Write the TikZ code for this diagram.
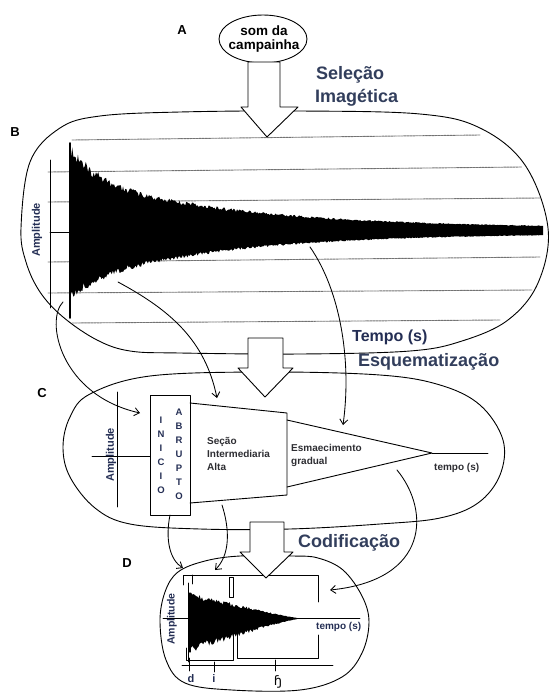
\documentclass[tikz,border=0pt]{standalone}
\usepackage{fontspec}
\setmainfont{Liberation Sans}
\newfontfamily\dejavu{DejaVu Sans}
\usetikzlibrary{arrows.meta}
\definecolor{slate}{RGB}{50,62,92}
\definecolor{navy}{RGB}{36,46,84}
\definecolor{dgray}{RGB}{45,45,50}
\begin{document}
\begin{tikzpicture}[x=1pt,y=-1pt,line cap=round,line join=round,
  outline/.style={line width=0.9pt},
  thin line/.style={line width=0.8pt},
  conn/.style={line width=0.85pt,-{Straight Barb[length=5pt,width=8pt,line width=0.85pt]}},
  blockarrow/.style={fill=white,draw,line width=0.9pt},
  gridline/.style={line width=0.9pt,black!55,dash pattern=on 2.2pt off 0.9pt},
  letter/.style={font=\bfseries\fontsize{13}{13}\selectfont},
  title/.style={font=\bfseries\fontsize{18}{18}\selectfont,text=slate,anchor=west,inner sep=0pt},
  small/.style={font=\bfseries\fontsize{10}{13}\selectfont,text=dgray,align=left,inner sep=0pt},
  amp/.style={font=\bfseries\fontsize{11}{11}\selectfont,text=navy,rotate=90,inner sep=0pt},
  vletter/.style={font=\bfseries\fontsize{9.5}{9.5}\selectfont,text=navy,inner sep=0pt}]
\useasboundingbox (0,0) rectangle (550,694);
\pgfmathsetseed{4242}

% ---------- outlines B, C, D ----------
\draw[outline] plot[smooth cycle,tension=0.6] coordinates {
  (21,228) (30,162) (60,128) (100,116) (180,112) (300,111) (420,114) (480,128)
  (525,165) (548,228) (538,283) (508,320) (462,341) (410,351) (300,354)
  (180,353) (130,351) (97,340) (63,317) (40,292) (26,262)};
\draw[outline] plot[smooth cycle,tension=0.6] coordinates {
  (150,376) (265,372) (380,375) (440,385) (480,405) (503,440) (500,475)
  (478,503) (440,518) (380,524) (290,529) (200,529) (130,524) (95,508)
  (70,477) (63,447) (70,417) (90,394)};
\draw[outline] plot[smooth cycle,tension=0.6] coordinates {
  (240,556) (293,556) (318,558) (343,570) (362,596) (369,622) (362,653)
  (342,677) (300,690) (232,690) (185,683) (166,660) (160,622) (165,592)
  (178,572) (205,561)};

% ---------- A ----------
\node[letter] (labA) at (182,30) {A};
\draw[outline,fill=white] (263,39) ellipse [x radius=44, y radius=24];
\node[font=\bfseries\fontsize{13.5}{14}\selectfont,align=center,inner sep=0pt] (bubble) at (264,39) {som da\\campainha};
\node[title] (sel1) at (316,75) {Seleção};
\node[title] (sel2) at (315,98) {Imagética};

% ---------- B ----------
\node[letter] (labB) at (15,132) {B};
\draw[gridline] (72,140) -- (480,135);
\draw[gridline] (48,172) -- (522,167);
\draw[gridline] (48,202) -- (540,198);
\draw[gridline] (48,262) -- (540,257);
\draw[gridline] (48,293) -- (532,290);
\draw[gridline] (72,323) -- (500,320);
\draw[thin line] (50,160) -- (50,308);
\draw[thin line] (50,232) -- (70,232);
\node[amp] (ampB) at (37,230) {Amplitude};
\fill[black] plot[domain=70:543,samples=420]
  (\x,{230-(30*exp(-min((\x-70)/25,9))+52*exp(-(\x-70)/160)+1.5)*(0.9+0.16*rnd)})
  -- plot[domain=543:70,samples=420]
  (\x,{232+(14*exp(-min((\x-70)/20,9))+52*exp(-(\x-70)/140)+1.5)*(0.9+0.16*rnd)})
  -- cycle;
\draw[line width=1.6pt] (70,143) -- (70,318);
\node[font=\bfseries\fontsize{16}{16}\selectfont,text=navy,anchor=west,inner sep=0pt] (tempoB) at (352,337) {Tempo (s)};

% ---------- C ----------
\node[letter] (labC) at (42,393) {C};
\draw[thin line] (117,392) -- (117,507);
\draw[thin line] (92,456) -- (150,456);
\node[amp] (ampC) at (111,455) {Amplitude};
\node[draw,outline,minimum width=40pt,minimum height=120pt,inner sep=0pt] (inicio) at (170,455) {};
\foreach \L [count=\i] in {I,N,I,C,I,O}
  \node[vletter] (ini\i) at (161,{420+14*(\i-1)}) {\L};
\foreach \L [count=\i] in {A,B,R,U,P,T,O}
  \node[vletter] (abr\i) at (179,{412+14*(\i-1)}) {\L};
\draw[outline] (190,403) -- (287,413) -- (287,495) -- (190,503);
\draw[outline] (287,420) -- (432,453) -- (287,487);
\draw[thin line] (432,453) -- (488,453);
\node[small,anchor=west] (secao) at (207,454) {Seção\\Intermediaria\\Alta};
\node[small,anchor=west] (esmae) at (291,455) {Esmaecimento\\gradual};
\node[small,anchor=west] (tempoC) at (434,468) {tempo (s)};
\node[title] (esq) at (358,362) {Esquematização};

% ---------- D ----------
\node[letter] (labD) at (127,563) {D};
\node[title] (codif) at (298,543) {Codificação};
\draw[thin line] (183,585) -- (183,575) -- (318,575) -- (318,602);
\draw[thin line] (192,575) -- (192,584);
\draw[thin line] (229,577) rectangle (233,597);
\draw[thin line] (318,635) -- (318,658) -- (237,658) -- (237,633);
\draw[thin line] (233,633) -- (233,660) -- (186,660) -- (186,648);
\draw[thin line] (163,618) -- (360,618);
\draw[thin line] (188,583) -- (188,662);
\fill[black] plot[domain=190:297,samples=90]
  (\x,{618-24*((298-\x)/108)^1.15*(0.82+0.3*rnd)})
  -- plot[domain=297:190,samples=90]
  (\x,{619+31*((298-\x)/108)^1.15*(0.82+0.3*rnd)}) -- cycle;
\draw[line width=1.2pt] (190,593) -- (190,652);
\draw[thin line] (182,665) -- (333,665);
\draw[thin line] (189,658) -- (189,671);
\draw[thin line] (214,662) -- (214,672);
\draw[thin line] (275,660) -- (275,671);
\node[amp,font=\bfseries\fontsize{10.5}{10.5}\selectfont] (ampD) at (172,619) {Amplitude};
\node[small,anchor=west,text=navy] (tempoD) at (316,627) {tempo (s)};
\node[font=\bfseries\fontsize{11}{11}\selectfont,text=navy,inner sep=0pt] (dl) at (191,679) {d};
\node[font=\bfseries\fontsize{11}{11}\selectfont,text=navy,inner sep=0pt] (il) at (214,679) {i};
\node[font=\dejavu\fontsize{13}{13}\selectfont,inner sep=0pt] (hl) at (278,682) {ɧ};

% ---------- curved connectors ----------
\coordinate (s1) at (63,302);   \coordinate (e1) at (140,413);
\coordinate (s2) at (118,282);  \coordinate (e2) at (217,398);
\coordinate (s3) at (310,247);  \coordinate (e3) at (343,425);
\coordinate (s4) at (170,515);  \coordinate (e4) at (183,568);
\coordinate (s5) at (222,505);  \coordinate (e5) at (215,570);
\coordinate (s6) at (397,470);  \coordinate (e6) at (330,590);
\draw[conn] (s1) .. controls (45,320) and (60,395) .. (e1);
\draw[conn] (s2) .. controls (170,310) and (205,340) .. (e2);
\draw[conn] (s3) .. controls (340,290) and (352,360) .. (e3);
\draw[conn] (s4) .. controls (165,540) and (170,560) .. (e4);
\draw[conn] (s5) .. controls (230,530) and (230,555) .. (e5);
\draw[conn] (s6) .. controls (430,510) and (430,580) .. (e6);

% ---------- block arrows ----------
\draw[blockarrow] (248,62) -- (280,62) -- (280,107) -- (298,107) -- (267,137) -- (241,107) -- (248,107) -- cycle;
\draw[blockarrow] (248,338) -- (283,338) -- (283,368) -- (293,368) -- (265,397) -- (238,368) -- (248,368) -- cycle;
\draw[blockarrow] (250,522) -- (284,522) -- (284,552) -- (293,552) -- (266,578) -- (240,552) -- (250,552) -- cycle;
\end{tikzpicture}
\end{document}
